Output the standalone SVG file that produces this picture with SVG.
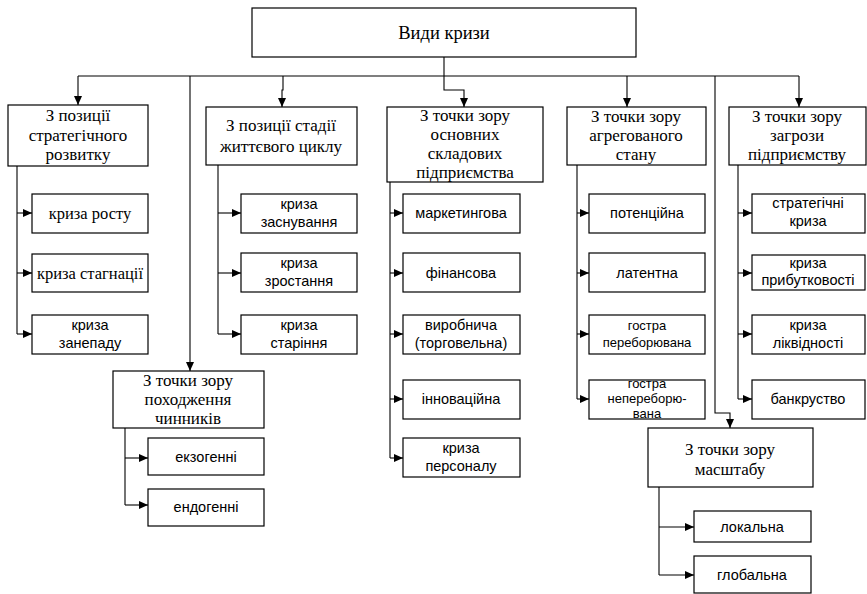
<svg xmlns="http://www.w3.org/2000/svg" width="867" height="594" viewBox="0 0 867 594">
<defs>
<marker id="arr" markerUnits="userSpaceOnUse" markerWidth="9" markerHeight="8" refX="9" refY="4" orient="auto"><path d="M0,0 L9,4 L0,8 z" fill="#000"/></marker>
<style>
.b{fill:#fff;stroke:#000;stroke-width:1.2}
.c{fill:none;stroke:#000;stroke-width:1.1}
.a{marker-end:url(#arr)}
.h{font-family:"Liberation Serif","Times New Roman",serif;font-size:17px;text-anchor:middle;fill:#000}
.r{font-family:"Liberation Serif","Times New Roman",serif;font-size:18.5px;text-anchor:middle;fill:#000}
.s{font-family:"Liberation Serif","Times New Roman",serif;font-size:16.5px;text-anchor:middle;fill:#000}
.t{font-family:"Liberation Sans",Arial,sans-serif;font-size:14.5px;text-anchor:middle;fill:#000}
.u{font-family:"Liberation Sans",Arial,sans-serif;font-size:13px;text-anchor:middle;fill:#000}
</style>
</defs>
<rect width="867" height="594" fill="#fff"/>
<g id="connectors">
<path class="c" d="M78,76 H799"/>
<path class="c a" d="M444,57 V90 H464 V107"/>
<path class="c a" d="M78,76 V105"/>
<path class="c a" d="M190,76 V371"/>
<path class="c a" d="M283,76 V90 H282 V107"/>
<path class="c a" d="M627,76 V107"/>
<path class="c a" d="M715,76 V413 H730 V428"/>
<path class="c a" d="M799,76 V107"/>
<path class="c" d="M17,166 V334"/>
<path class="c a" d="M17,213 H32"/><path class="c a" d="M17,273 H32"/><path class="c a" d="M17,334 H32"/>
<path class="c" d="M218,165 V334"/>
<path class="c a" d="M218,213 H241"/><path class="c a" d="M218,273 H241"/><path class="c a" d="M218,334 H241"/>
<path class="c" d="M390,182 V458"/>
<path class="c a" d="M390,213 H403"/><path class="c a" d="M390,273 H403"/><path class="c a" d="M390,334 H403"/><path class="c a" d="M390,399 H403"/><path class="c a" d="M390,458 H403"/>
<path class="c" d="M577,165 V399"/>
<path class="c a" d="M577,213 H589"/><path class="c a" d="M577,273 H589"/><path class="c a" d="M577,334 H589"/><path class="c a" d="M577,399 H589"/>
<path class="c" d="M738,165 V399"/>
<path class="c a" d="M738,213 H752"/><path class="c a" d="M738,273 H752"/><path class="c a" d="M738,334 H752"/><path class="c a" d="M738,399 H752"/>
<path class="c" d="M125,428 V505"/>
<path class="c a" d="M125,458 H148"/><path class="c a" d="M125,505 H148"/>
<path class="c" d="M659,487 V575"/>
<path class="c a" d="M659,527 H694"/><path class="c a" d="M659,575 H694"/>
</g>
<g id="root"><rect class="b" x="252" y="8" width="384" height="49"/><text class="r" x="444" y="39">Види кризи</text></g>
<g id="n1"><rect class="b" x="8" y="105" width="140" height="61"/><text class="h" x="78" y="121">З позиції</text><text class="h" x="78" y="141">стратегічного</text><text class="h" x="78" y="160">розвитку</text></g>
<g id="n1a"><rect class="b" x="32" y="194" width="116" height="39"/><text class="s" x="90" y="219">криза росту</text></g>
<g id="n1b"><rect class="b" x="32" y="254" width="116" height="38"/><text class="s" x="90" y="279">криза стагнації</text></g>
<g id="n1c"><rect class="b" x="32" y="315" width="116" height="39"/><text class="t" x="90" y="330">криза</text><text class="t" x="90" y="348">занепаду</text></g>
<g id="n2"><rect class="b" x="206" y="107" width="151" height="58"/><text class="h" x="281" y="131">З позиції стадії</text><text class="h" x="281" y="152">життєвого циклу</text></g>
<g id="n2a"><rect class="b" x="241" y="194" width="116" height="39"/><text class="t" x="299" y="209">криза</text><text class="t" x="299" y="227">заснування</text></g>
<g id="n2b"><rect class="b" x="241" y="253" width="116" height="39"/><text class="t" x="299" y="268">криза</text><text class="t" x="299" y="286">зростання</text></g>
<g id="n2c"><rect class="b" x="241" y="315" width="116" height="39"/><text class="t" x="299" y="330">криза</text><text class="t" x="299" y="348">старіння</text></g>
<g id="n3"><rect class="b" x="387" y="107" width="156" height="75"/><text class="h" x="465" y="121">З точки зору</text><text class="h" x="465" y="140">основних</text><text class="h" x="465" y="159">складових</text><text class="h" x="465" y="178">підприємства</text></g>
<g id="n3a"><rect class="b" x="403" y="194" width="117" height="39"/><text class="t" x="461" y="218">маркетингова</text></g>
<g id="n3b"><rect class="b" x="403" y="253" width="117" height="39"/><text class="t" x="461" y="278">фінансова</text></g>
<g id="n3c"><rect class="b" x="403" y="315" width="117" height="39"/><text class="t" x="461" y="330">виробнича</text><text class="t" x="461" y="348">(торговельна)</text></g>
<g id="n3d"><rect class="b" x="403" y="380" width="117" height="39"/><text class="t" x="461" y="404">інноваційна</text></g>
<g id="n3e"><rect class="b" x="403" y="438" width="117" height="39"/><text class="t" x="461" y="453">криза</text><text class="t" x="461" y="471">персоналу</text></g>
<g id="n4"><rect class="b" x="567" y="107" width="139" height="58"/><text class="h" x="636" y="122">З точки зору</text><text class="h" x="636" y="141">агрегованого</text><text class="h" x="636" y="160">стану</text></g>
<g id="n4a"><rect class="b" x="589" y="194" width="116" height="39"/><text class="t" x="647" y="218">потенційна</text></g>
<g id="n4b"><rect class="b" x="589" y="253" width="116" height="39"/><text class="t" x="647" y="278">латентна</text></g>
<g id="n4c"><rect class="b" x="589" y="315" width="116" height="39"/><text class="u" x="647" y="330">гостра</text><text class="u" x="647" y="347">переборювана</text></g>
<g id="n4d"><rect class="b" x="589" y="380" width="116" height="39"/><text class="u" x="647" y="388">гостра</text><text class="u" x="647" y="403">непереборю-</text><text class="u" x="647" y="418">вана</text></g>
<g id="n5"><rect class="b" x="729" y="107" width="137" height="58"/><text class="h" x="797" y="122">З точки зору</text><text class="h" x="797" y="141">загрози</text><text class="h" x="797" y="160">підприємству</text></g>
<g id="n5a"><rect class="b" x="752" y="194" width="113" height="39"/><text class="t" x="808" y="208">стратегічні</text><text class="t" x="808" y="226">криза</text></g>
<g id="n5b"><rect class="b" x="752" y="255" width="113" height="35"/><text class="t" x="808" y="268">криза</text><text class="t" x="808" y="285">прибутковості</text></g>
<g id="n5c"><rect class="b" x="752" y="315" width="113" height="39"/><text class="t" x="808" y="330">криза</text><text class="t" x="808" y="348">ліквідності</text></g>
<g id="n5d"><rect class="b" x="752" y="380" width="113" height="39"/><text class="t" x="808" y="404">банкруство</text></g>
<g id="n6"><rect class="b" x="113" y="371" width="151" height="57"/><text class="h" x="188" y="386">З точки зору</text><text class="h" x="188" y="405">походження</text><text class="h" x="188" y="424">чинників</text></g>
<g id="n6a"><rect class="b" x="148" y="438" width="116" height="37"/><text class="t" x="206" y="462">екзогенні</text></g>
<g id="n6b"><rect class="b" x="148" y="489" width="116" height="37"/><text class="t" x="206" y="512">ендогенні</text></g>
<g id="n7"><rect class="b" x="648" y="428" width="165" height="59"/><text class="h" x="730" y="455">З точки зору</text><text class="h" x="730" y="475">масштабу</text></g>
<g id="n7a"><rect class="b" x="694" y="511" width="117" height="31"/><text class="t" x="752" y="532">локальна</text></g>
<g id="n7b"><rect class="b" x="694" y="556" width="117" height="37"/><text class="t" x="752" y="580">глобальна</text></g>
</svg>
